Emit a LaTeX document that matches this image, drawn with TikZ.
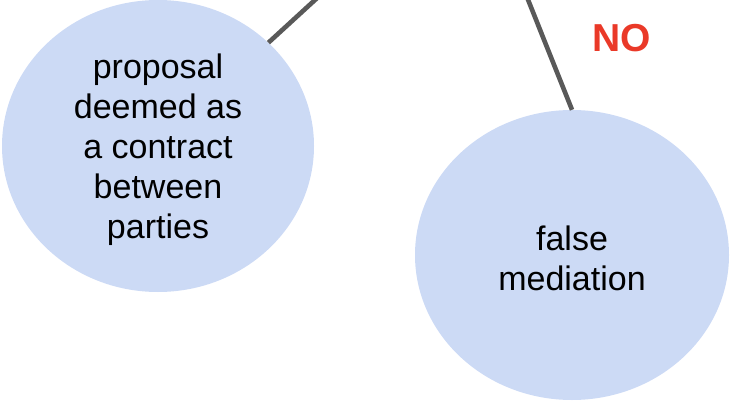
\documentclass[tikz,border=0pt]{standalone}
\usepackage{fontspec}
\setmainfont{Liberation Sans}
\usetikzlibrary{shapes.geometric}
\definecolor{bubble}{RGB}{204,218,245}
\definecolor{link}{RGB}{89,89,89}
\definecolor{nored}{RGB}{234,57,40}
\tikzset{
  bubblenode/.style={ellipse, fill=bubble, draw=none, inner sep=0pt},
  bubbletext/.style={align=center, inner sep=0pt, font=\fontsize{34}{40}\selectfont},
  linkline/.style={draw=link, line width=4.6pt},
  answer/.style={text=nored, font=\bfseries\fontsize{39}{44}\selectfont, inner sep=0pt}
}
\begin{document}
\begin{tikzpicture}[x=1pt,y=-1pt]
\useasboundingbox (0,0) rectangle (731,404);
\clip (0,0) rectangle (731,404);
\coordinate (top) at (471,-143);
\node[bubblenode, minimum width=312pt, minimum height=292pt] (left) at (158,146) {};
\node[bubblenode, minimum width=314pt, minimum height=290pt] (right) at (572,255) {};
\node[bubbletext] (lefttext) at (158,150) {proposal\\deemed as\\a contract\\between\\parties};
\node[bubbletext] (righttext) at (572,258) {false\\mediation};
\draw[linkline] (top) -- (left.north east);
\draw[linkline] (top) -- (right.north);
\node[answer] (no) at (622,38) {NO};
\end{tikzpicture}
\end{document}
